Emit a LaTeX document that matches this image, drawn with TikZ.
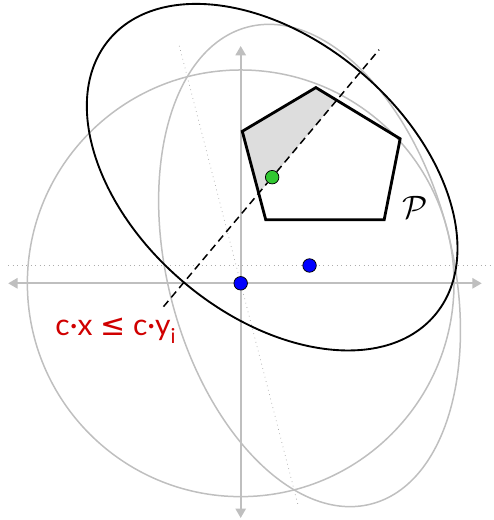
\documentclass[tikz,border=0pt]{standalone}
\usepackage{fontspec}
\newfontfamily\labelfont{Lato}
\newfontfamily\symfont{DejaVu Sans}
\usetikzlibrary{arrows.meta,calc}
\definecolor{cutred}{RGB}{208,0,0}
\definecolor{centergreen}{RGB}{50,200,50}
\tikzset{
  axis/.style={gray!50, line width=1pt, {Triangle[length=5pt,width=5.5pt]}-{Triangle[length=5pt,width=5.5pt]}},
  oldellipse/.style={gray!50, line width=0.8pt},
  newellipse/.style={black, line width=1pt},
  cutplane/.style={gray!65, line width=0.4pt, dotted},
  cutline/.style={black, line width=0.8pt, dash pattern=on 4pt off 2.5pt},
  polytope/.style={black, line width=1.5pt, line join=miter},
  centerdot/.style={circle, draw=black, line width=0.4pt, inner sep=0pt, minimum size=7.2pt},
}
\begin{document}
\begin{tikzpicture}
  \useasboundingbox (-4.513,-4.438) rectangle (4.731,5.312);
  % Axes
  \draw[axis] (-4.36,0) -- (4.52,0);
  \draw[axis] (0,-4.40) -- (0,4.45);
  % Cutting planes through the old centres
  \draw[cutplane] (-4.36,0.334) -- (4.731,0.334);
  \draw[cutplane] (104.5:4.6) -- (284.5:4.33);
  % Ellipsoids E0, E1 (gray) and E2 (black)
  \draw[oldellipse] (0,0) circle (4);
  \draw[oldellipse, rotate around={14.5:(1.291,0.334)}] (1.291,0.334) ellipse (2.667 and 4.619);
  \draw[newellipse, rotate around={-40.35:(0.59,1.99)}] (0.59,1.99) ellipse (4 and 2.575);
  % Polytope with the part cut away
  \begin{scope}
    \clip (0.03,2.85) -- (1.41,3.67) -- (2.99,2.71) -- (2.69,1.19) -- (0.47,1.19) -- cycle;
    \fill[gray!27] (0.59,1.99) ++(230:5) -- ++(50:10) -- ++(140:5) -- ++(230:10) -- cycle;
  \end{scope}
  \draw[polytope] (0.03,2.85) -- (1.41,3.67) -- (2.99,2.71) -- (2.69,1.19) -- (0.47,1.19) -- cycle;
  \node[font=\LARGE] (poly) at (3.27,1.43) {$\mathcal{P}$};
  % Centres
  \node[centerdot, fill=blue] (y0) at (0,0) {};
  \node[centerdot, fill=blue] (y1) at (1.291,0.334) {};
  \node[centerdot, fill=centergreen] (y2) at (0.59,1.99) {};
  % Cut through y2
  \coordinate (cutlow) at ($(y2)+(230:3.17)$);
  \coordinate (cuthigh) at ($(y2)+(50:3.12)$);
  \draw[cutline] (cutlow) -- (y2) -- (cuthigh);
  \node[anchor=base west, inner sep=0pt, text=cutred, font=\labelfont\fontsize{16}{18}\selectfont] (cutlabel) at (-3.48,-0.97)
    {c·x {\symfont ≤} c·y\raisebox{-0.28em}{\fontsize{11}{12}\selectfont i}};
\end{tikzpicture}
\end{document}
